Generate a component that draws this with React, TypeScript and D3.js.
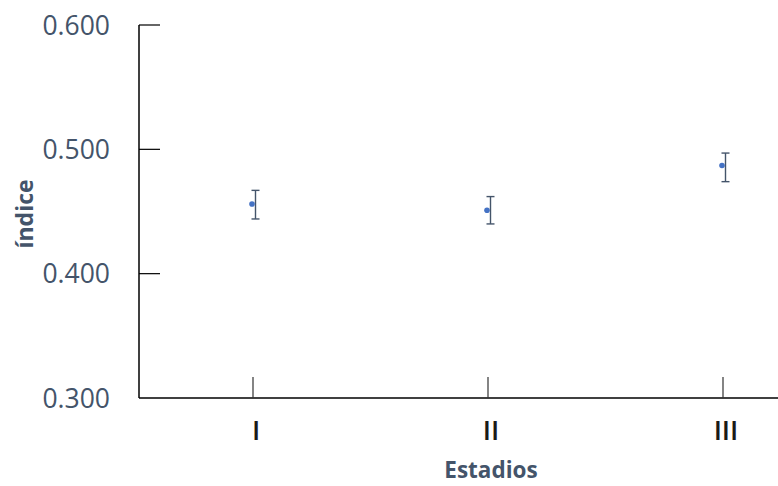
import React from "react";
import * as d3 from "d3";

const width = 778;
const height = 486;
const margin = { top: 25, right: 0, bottom: 88, left: 139 };

// stages and their index values (mean and error bar ends)
const stages = ["I", "II", "III"];
const means = [0.456, 0.451, 0.487];
const lows = [0.444, 0.44, 0.474];
const highs = [0.467, 0.462, 0.497];
const yTicks = [0.3, 0.4, 0.5, 0.6];

const slate = "#44546a";
const font = "'Open Sans', 'Noto Sans', sans-serif";

const App = () => {
  const innerH = height - margin.top - margin.bottom;

  const x = d3
    .scalePoint<string>()
    .domain(stages)
    .range([253, 723]);

  const y = d3.scaleLinear().domain([0.3, 0.6]).range([margin.top + innerH, margin.top]);
  const fmt = d3.format(".3f");
  const base = y(0.3);

  return (
    <svg
      width={width}
      height={height}
      style={{ position: "absolute", left: 0, top: 0, background: "#fff" }}
      fontFamily={font}
    >
      {/* y axis */}
      <line x1={margin.left} x2={margin.left} y1={y(0.6)} y2={base} stroke="#000" strokeWidth={1.5} />
      {yTicks.map((t) => (
        <g key={t}>
          {t > 0.3 && (
            <line x1={margin.left} x2={margin.left + 21} y1={y(t)} y2={y(t)} stroke="#000" strokeWidth={1.2} />
          )}
          <text x={110} y={y(t)} dy="0.36em" textAnchor="end" fontSize={26.5} fill={slate}>
            {fmt(t)}
          </text>
        </g>
      ))}

      {/* x axis */}
      <line x1={margin.left} x2={width} y1={base} y2={base} stroke="#000" strokeWidth={1.5} />
      {stages.map((s) => (
        <g key={s}>
          <line x1={x(s)} x2={x(s)} y1={base} y2={base - 21} stroke="#333" strokeWidth={1.2} />
          <text x={x(s)! + 3} y={440} textAnchor="middle" fontSize={27} fontWeight={600} fill="#1a1a1a">
            {s}
          </text>
        </g>
      ))}

      {/* error bars and means */}
      {stages.map((s, i) => {
        const bx = x(s)! + 2.5;
        return (
          <g key={s}>
            <line x1={bx} x2={bx} y1={y(highs[i])} y2={y(lows[i])} stroke={slate} strokeWidth={1.4} />
            <line x1={bx - 4} x2={bx + 4} y1={y(highs[i])} y2={y(highs[i])} stroke={slate} strokeWidth={1.4} />
            <line x1={bx - 4} x2={bx + 4} y1={y(lows[i])} y2={y(lows[i])} stroke={slate} strokeWidth={1.4} />
            <circle cx={x(s)! - 1} cy={y(means[i])} r={2.8} fill="#4472c4" />
          </g>
        );
      })}

      {/* axis titles */}
      <text
        transform={`translate(33,214) rotate(-90)`}
        textAnchor="middle"
        fontSize={23}
        fontWeight="bold"
        fill={slate}
      >
        índice
      </text>
      <text x={491} y={478} textAnchor="middle" fontSize={22.5} fontWeight="bold" fill={slate}>
        Estadios
      </text>
    </svg>
  );
};

export default App;
